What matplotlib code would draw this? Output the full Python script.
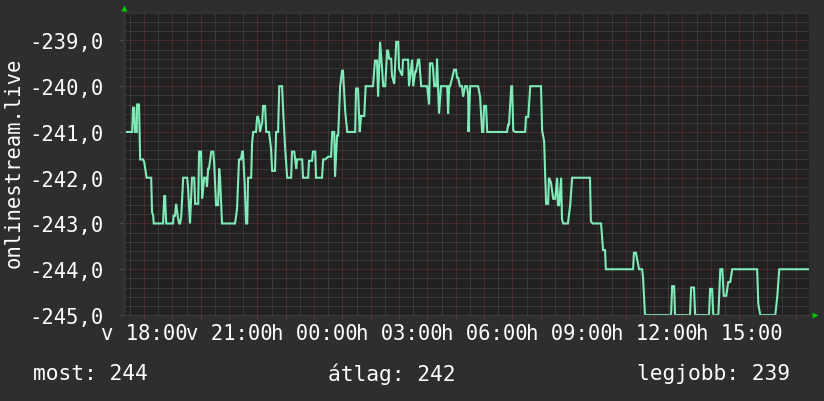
import matplotlib
matplotlib.use("Agg")
import matplotlib.pyplot as plt
from matplotlib.ticker import FixedLocator, MultipleLocator, FuncFormatter
from matplotlib.transforms import offset_copy

# hours relative to Sunday 18:00, values as shown on the axis
hours = [-0.71, -0.42, -0.39, -0.35, -0.32, -0.26, -0.25, -0.18, -0.14, -0.04,
         0.00, 0.04, 0.09, 0.25, 0.28, 0.32, 0.34, 0.67, 0.71, 0.74,
         0.78, 1.02, 1.04, 1.09, 1.13, 1.20, 1.24, 1.27, 1.31, 1.38,
         1.52, 1.55, 1.62, 1.69, 1.77, 1.80, 1.91, 1.94, 2.01, 2.05,
         2.12, 2.19, 2.22, 2.26, 2.29, 2.37, 2.44, 2.47, 2.54, 2.61,
         2.65, 2.68, 2.75, 3.21, 3.28, 3.35, 3.42, 3.46, 3.49, 3.55,
         3.60, 3.64, 3.67, 3.78, 3.81, 3.85, 3.95, 3.99, 4.02, 4.06,
         4.09, 4.17, 4.20, 4.27, 4.31, 4.41, 4.48, 4.52, 4.62, 4.66,
         4.73, 4.77, 4.87, 4.91, 4.98, 5.05, 5.19, 5.22, 5.30, 5.37,
         5.40, 5.58, 5.61, 5.79, 5.82, 5.93, 5.96, 6.04, 6.07, 6.28,
         6.32, 6.39, 6.50, 6.60, 6.64, 6.71, 6.74, 6.81, 6.85, 6.92,
         6.99, 7.02, 7.10, 7.17, 7.45, 7.48, 7.55, 7.61, 7.66, 7.77,
         7.82, 8.08, 8.15, 8.22, 8.26, 8.33, 8.40, 8.44, 8.51, 8.58,
         8.61, 8.65, 8.72, 8.75, 8.83, 8.90, 8.97, 9.00, 9.11, 9.14,
         9.32, 9.35, 9.46, 9.50, 9.57, 9.60, 9.67, 9.71, 9.78, 9.99,
         10.06, 10.09, 10.17, 10.20, 10.24, 10.31, 10.34, 10.41, 10.48, 10.70,
         10.73, 10.77, 10.80, 10.87, 10.94, 11.01, 11.05, 11.08, 11.15, 11.22,
         11.26, 11.33, 11.40, 11.44, 11.45, 11.51, 11.79, 11.86, 11.93, 11.97,
         12.00, 12.07, 12.11, 12.81, 12.85, 12.88, 12.96, 12.99, 13.03, 13.10,
         13.45, 13.48, 13.56, 13.63, 14.01, 14.05, 14.12, 14.19, 14.26, 14.29,
         14.36, 14.44, 14.51, 14.58, 14.61, 14.65, 14.72, 14.75, 14.79, 14.96,
         15.04, 15.11, 15.74, 15.77, 15.84, 16.13, 16.20, 16.27, 16.30, 17.26,
         17.29, 17.36, 17.40, 17.47, 17.58, 17.61, 17.68, 18.60, 18.64, 18.71,
         18.74, 19.27, 19.31, 19.41, 19.45, 19.94, 19.98, 20.05, 20.09, 20.27,
         20.34, 20.41, 20.46, 20.55, 20.62, 20.69, 20.76, 21.64, 21.68, 21.75,
         22.28, 22.35, 22.42, 23.44]
values = [-241.0, -241.0, -240.47, -240.47, -241.0, -241.0, -240.4, -240.4, -241.6, -241.6,
          -241.65, -241.8, -242.0, -242.0, -242.75, -242.83, -243.0, -243.0, -242.4, -242.4,
          -243.0, -243.0, -242.83, -242.83, -242.57, -242.9, -243.0, -243.0, -242.85, -242.0,
          -242.0, -242.2, -243.0, -242.0, -242.0, -242.57, -242.57, -241.43, -241.43, -242.46,
          -242.0, -242.0, -242.2, -241.8, -241.8, -241.43, -241.43, -241.65, -242.6, -242.6,
          -241.8, -242.0, -243.0, -243.0, -242.68, -241.6, -241.6, -241.43, -241.43, -242.13,
          -243.0, -243.0, -242.0, -242.0, -241.26, -241.0, -241.0, -240.67, -240.67, -240.78,
          -241.0, -240.78, -240.43, -240.43, -241.0, -241.0, -241.37, -241.85, -241.85, -241.0,
          -241.0, -240.0, -240.0, -240.56, -241.37, -242.0, -242.0, -241.43, -241.43, -241.8,
          -241.6, -241.6, -242.0, -242.0, -241.63, -241.63, -241.43, -241.43, -242.0, -242.0,
          -241.6, -241.6, -241.54, -241.54, -241.0, -241.0, -241.98, -241.08, -241.08, -240.0,
          -239.66, -239.66, -240.56, -241.0, -241.0, -240.05, -240.05, -241.0, -240.65, -240.65,
          -240.0, -240.0, -239.44, -239.44, -240.23, -239.03, -239.62, -240.0, -240.0, -239.22,
          -239.22, -239.4, -239.4, -239.77, -239.95, -239.03, -239.03, -239.62, -239.77, -239.42,
          -239.42, -240.0, -239.42, -240.0, -239.68, -239.68, -239.42, -239.42, -240.0, -240.0,
          -240.4, -239.5, -239.5, -239.62, -240.0, -240.0, -239.4, -240.6, -240.0, -240.0,
          -240.6, -240.0, -240.0, -239.83, -239.64, -239.64, -239.83, -239.8, -240.0, -240.0,
          -240.23, -240.0, -240.0, -240.2, -241.0, -240.0, -240.0, -240.23, -241.0, -241.0,
          -240.43, -240.43, -241.0, -241.0, -240.84, -240.84, -240.0, -240.0, -240.97, -241.0,
          -241.0, -240.67, -240.67, -240.0, -240.0, -240.97, -241.2, -242.57, -242.57, -242.0,
          -242.1, -242.46, -242.46, -242.0, -242.6, -242.6, -242.0, -242.9, -243.0, -243.0,
          -242.6, -242.0, -242.0, -242.96, -243.0, -243.0, -243.58, -243.58, -244.0, -244.0,
          -243.64, -243.64, -243.77, -244.0, -244.0, -244.17, -245.0, -245.0, -244.37, -244.37,
          -245.0, -245.0, -244.4, -244.4, -245.0, -245.0, -244.43, -244.43, -245.0, -245.0,
          -244.0, -244.0, -244.58, -244.58, -244.28, -244.28, -244.0, -244.0, -244.76, -245.0,
          -245.0, -244.6, -244.0, -244.0]

tick_hours = [0, 3, 6, 9, 12, 15, 18, 21]
tick_labels = ["v 18:00", "v 21:00", "h 00:00", "h 03:00", "h 06:00",
               "h 09:00", "h 12:00", "h 15:00"]
y_ticks = [-245, -244, -243, -242, -241, -240, -239]
summary = ["most: 244", "átlag: 242", "legjobb: 239"]

BG = "#2e2e2e"
PLOT_BG = "#212121"
LINE = "#80eab9"
plt.rcParams["font.family"] = ["DejaVu Sans Mono"]

fig = plt.figure(figsize=(8.24, 4.02), dpi=100, facecolor=BG)
ax = fig.add_axes([124 / 824, 86 / 402, 685 / 824, 302 / 402])
ax.set_facecolor(PLOT_BG)

ax.plot(hours, values, color=LINE, lw=1.5, solid_joinstyle="miter")
ax.set_xlim(-0.71, 23.47)
ax.set_ylim(-245.0, -238.4)

dot = (0, (1, 1))
ax.xaxis.set_major_locator(MultipleLocator(1))
ax.xaxis.set_minor_locator(MultipleLocator(0.5))
ax.yaxis.set_major_locator(FixedLocator(y_ticks))
ax.yaxis.set_minor_locator(MultipleLocator(0.2))
ax.grid(which="minor", color="#4e4e4e", lw=0.72, linestyle=dot)
ax.grid(which="major", color="#6e3434", lw=0.72, linestyle=dot)
ax.set_axisbelow(True)


def xlabel(v, pos):
    h = round(v)
    if abs(v - h) < 1e-6 and h in tick_hours:
        return tick_labels[tick_hours.index(h)]
    return ""


ax.xaxis.set_major_formatter(FuncFormatter(xlabel))
ax.yaxis.set_major_formatter(FuncFormatter(lambda v, p: f"{v:.1f}".replace(".", ",")))

ax.tick_params(axis="x", which="major", colors="#6e3434", length=3, width=0.8,
               labelcolor="white", labelsize=14.8, pad=3)
ax.tick_params(axis="y", which="major", colors="#555555", length=3, width=0.8,
               labelcolor="white", labelsize=14.8, pad=12)
ax.tick_params(which="minor", length=0)

for s in ax.spines.values():
    s.set_visible(False)
ax.spines["left"].set_visible(True)
ax.spines["left"].set_color("#333333")
ax.spines["left"].set_linewidth(2)
ax.spines["bottom"].set_visible(True)
ax.spines["bottom"].set_color("#3a3a3a")
ax.spines["bottom"].set_linewidth(1)

# rrdtool-style axis arrows
up = offset_copy(ax.transAxes, fig=fig, x=0, y=5, units="dots")
ax.plot([0], [1], marker="^", ms=5, color="#00cc00", mec="none", transform=up, clip_on=False)
right = offset_copy(ax.transAxes, fig=fig, x=6, y=0, units="dots")
ax.plot([1], [0], marker=">", ms=5, color="#00cc00", mec="none", transform=right, clip_on=False)

fig.text(14 / 824, 1 - 163 / 402, "onlinestream.live", rotation=90, color="white",
         fontsize=14.8, ha="center", va="center")

for x, txt in zip([33, 328, 637], summary):
    fig.text(x / 824, 1 - 374 / 402, txt, color="white", fontsize=15.3, ha="left", va="center")

fig.savefig("out.png", dpi=100, facecolor=BG)
